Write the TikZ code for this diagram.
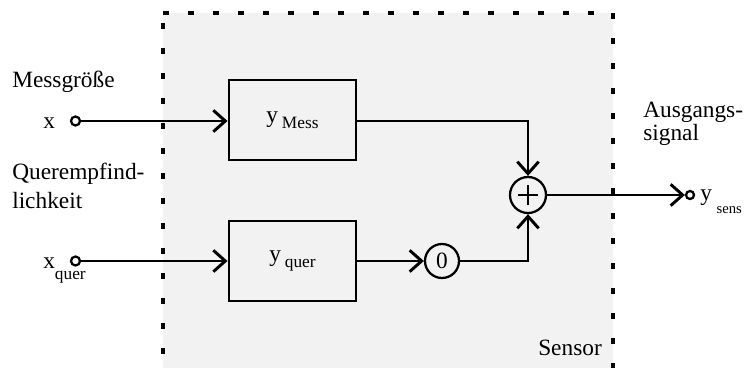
\documentclass[tikz,border=0pt]{standalone}
\usepackage{fontspec}
\setmainfont{Liberation Serif}
\usetikzlibrary{arrows.meta}
\begin{document}
\begin{tikzpicture}[x=0.75pt,y=-0.75pt,
  sig/.style={line width=2.2pt,-{Straight Barb[length=9pt,width=16pt,line width=2.2pt]}},
  blockbox/.style={draw,line width=2.2pt,minimum width=95.25pt,minimum height=60pt,inner sep=0pt,
    font=\fontsize{17.5}{20}\selectfont},
  rnd/.style={draw,circle,line width=1.7pt,inner sep=0pt,font=\fontsize{17.5}{20}\selectfont},
  port/.style={draw,circle,line width=1.7pt,inner sep=0pt,fill=white},
  lbl/.style={inner sep=0pt,anchor=base west,font=\fontsize{17.5}{20}\selectfont,align=left},
  border/.style={line width=2.4pt,dash pattern=on 4.5pt off 14.25pt}]
\useasboundingbox (0,0) rectangle (747,368);
\fill[black!5] (163,13) rectangle (613,368);
\draw[border] (163,13) -- (613,13);
\draw[border] (163,23) -- (163,368);
\draw[border] (613,13) -- (613,368);

\node[blockbox] (mess) at (292.5,120) {y\,\raisebox{-4.5pt}{\fontsize{13}{14}\selectfont Mess}};
\node[blockbox] (quer) at (292.5,261) {y\,\raisebox{-4.5pt}{\fontsize{13}{14}\selectfont quer}};
\node[rnd,minimum size=27pt] (sum) at (528,195) {};
\draw[line width=2.2pt] ([xshift=-7.5pt]sum.center) -- ([xshift=7.5pt]sum.center);
\draw[line width=2.2pt] ([yshift=-7.5pt]sum.center) -- ([yshift=7.5pt]sum.center);
\node[rnd,minimum size=25.5pt] (zero) at (442,261) {0};

\node[port,minimum size=6.75pt] (xin) at (75.5,121) {};
\node[port,minimum size=6.75pt] (qin) at (75.5,261) {};
\node[port,minimum size=6pt] (yout) at (690,195) {};

\node[lbl] (lmess) at (12,87) {Messgröße};
\node[lbl] (lx) at (43,128) {x};
\node[lbl] (lquer) at (12,208) {Querempfind-\\[1.75pt]lichkeit};
\node[lbl] (lxq) at (43,268) {x\raisebox{-8.25pt}{\fontsize{13}{14}\selectfont quer}};
\node[lbl] (lout) at (643,140) {Ausgangs-\\[-2.75pt]signal};
\node[lbl] (lys) at (700,200) {y\hspace{3.5pt}\raisebox{-9.75pt}{\fontsize{11}{12}\selectfont sens}};
\node[lbl] (lsensor) at (538,355) {Sensor};

\draw[sig] (xin) -- (mess.west |- xin);
\draw[sig] (qin) -- (quer.west |- qin);
\draw[sig] (mess.east |- 0,121) -| (sum.north);
\draw[sig] (quer.east) -- (zero.west);
\draw[sig] (zero.east) -| (sum.south);
\draw[sig] (sum.east) -- (yout.west);
\end{tikzpicture}
\end{document}
